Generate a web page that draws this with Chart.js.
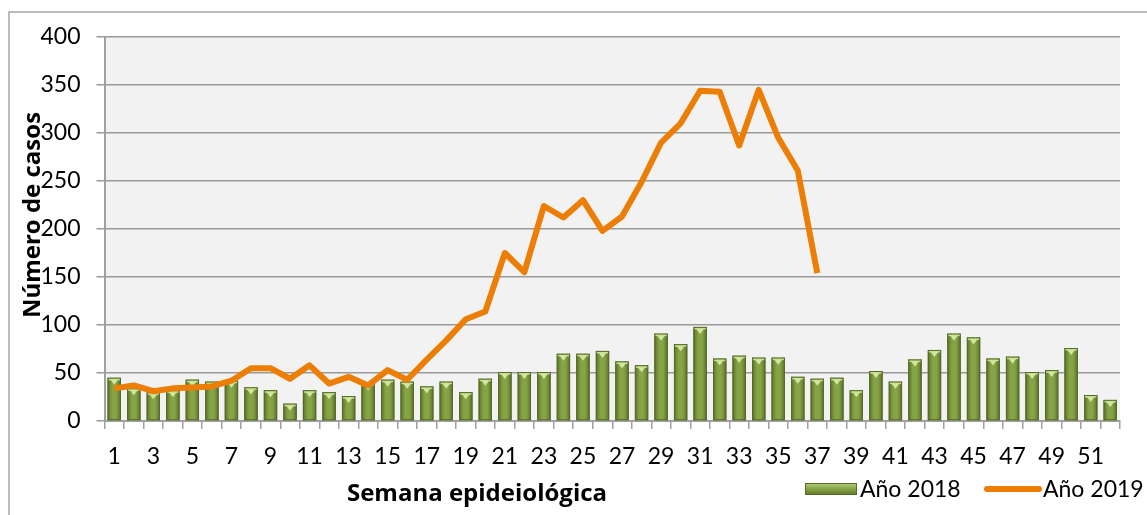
<!DOCTYPE html>
<html>
<head>
<meta charset="utf-8">
<script src="https://cdn.jsdelivr.net/npm/chart.js@4.4.1/dist/chart.umd.min.js"></script>
<style>
  body { margin: 0; background: #ffffff; }
  canvas { display: block; }
</style>
</head>
<body>
<canvas id="casosChart" width="1147" height="515"></canvas>
<script>
// Semanas epidemiológicas
const semanas = [];
for (let i = 1; i <= 52; i++) semanas.push(String(i));

// Casos por semana, 2018 (barras)
const casos2018 = [45, 34, 30, 32, 43, 41, 42, 35, 32, 18,
                   32, 30, 26, 39, 43, 41, 36, 41, 30, 44,
                   51, 51, 51, 70, 70, 73, 62, 58, 91, 80,
                   98, 65, 68, 66, 66, 46, 44, 45, 32, 52,
                   41, 64, 74, 91, 87, 65, 67, 51, 53, 76,
                   27, 22];

// Casos por semana, 2019 (linea, hasta la semana 37)
const casos2019 = [34, 37, 31, 34, 35, 36, 42, 55, 55, 44,
                   58, 39, 46, 37, 53, 43, 64, 84, 106, 114,
                   175, 155, 224, 212, 230, 198, 213, 249, 290, 310,
                   344, 343, 287, 345, 295, 261, 154];

// Etiquetas del eje Y
const yTicks = [0, 50, 100, 150, 200, 250, 300, 350, 400];

const FONT = 'Lato, "Open Sans", sans-serif';
const TITLE_FONT = '"Open Sans", Lato, sans-serif';
const green = '#77933c';
const orange = '#ec7e05';

// Fondo, marco, sombreado de barras, titulos y leyenda
const decorPlugin = {
    id: 'decor',
    beforeDraw(chart) {
        const { ctx, chartArea: a } = chart;
        ctx.save();
        ctx.fillStyle = '#f2f2f2';
        ctx.fillRect(a.left, a.top, a.right - a.left, a.bottom - a.top);
        // marco exterior
        ctx.strokeStyle = '#a6a6a6';
        ctx.lineWidth = 1.5;
        ctx.beginPath();
        ctx.moveTo(9, 515);
        ctx.lineTo(9, 12);
        ctx.lineTo(1147, 12);
        ctx.stroke();
        ctx.restore();
    },
    afterDatasetDraw(chart, args) {
        if (args.index !== 0) return;
        const { ctx } = chart;
        ctx.save();
        args.meta.data.forEach(bar => {
            const w = bar.width, x0 = bar.x - w / 2, top = bar.y, base = bar.base;
            const g = ctx.createLinearGradient(x0, 0, x0 + w, 0);
            g.addColorStop(0, '#5a7227');
            g.addColorStop(0.35, '#86a446');
            g.addColorStop(0.65, '#86a446');
            g.addColorStop(1, '#5a7227');
            ctx.fillStyle = g;
            ctx.fillRect(x0, top, w, base - top);
            ctx.strokeStyle = '#55692c';
            ctx.lineWidth = 1;
            ctx.strokeRect(x0 + 0.5, top + 0.5, w - 1, base - top - 1);
            // bisel superior
            ctx.fillStyle = '#c9df92';
            ctx.fillRect(x0 + 1, top + 1, w - 2, 1.5);
            ctx.beginPath();
            ctx.moveTo(x0 + w * 0.22, top + 2);
            ctx.lineTo(x0 + w * 0.78, top + 2);
            ctx.lineTo(bar.x, top + 7);
            ctx.closePath();
            ctx.fillStyle = '#d2e6a0';
            ctx.fill();
        });
        ctx.restore();
    },
    afterDraw(chart) {
        const { ctx } = chart;
        ctx.save();
        ctx.fillStyle = '#000000';
        // titulo eje X
        ctx.font = 'bold 24px ' + TITLE_FONT;
        ctx.textAlign = 'center';
        ctx.textBaseline = 'middle';
        ctx.fillText('Semana epideiológica', 477, 494);
        // titulo eje Y
        ctx.save();
        ctx.translate(33, 215);
        ctx.rotate(-Math.PI / 2);
        ctx.fillText('Número de casos', 0, 0);
        ctx.restore();
        // leyenda
        ctx.font = '23px ' + FONT;
        ctx.textAlign = 'left';
        const ly = 489;
        const g = ctx.createLinearGradient(0, ly - 6, 0, ly + 6);
        g.addColorStop(0, '#b5cf7a');
        g.addColorStop(0.5, '#86a446');
        g.addColorStop(1, '#5d7529');
        ctx.fillStyle = g;
        ctx.fillRect(805, ly - 6, 52, 12);
        ctx.strokeStyle = '#55692c';
        ctx.lineWidth = 1;
        ctx.strokeRect(805.5, ly - 5.5, 51, 11);
        ctx.fillStyle = '#000000';
        ctx.fillText(chart.data.datasets[0].label, 860, ly + 1);
        ctx.strokeStyle = orange;
        ctx.lineWidth = 6;
        ctx.lineCap = 'round';
        ctx.beginPath();
        ctx.moveTo(987, ly);
        ctx.lineTo(1039, ly);
        ctx.stroke();
        ctx.fillText(chart.data.datasets[1].label, 1043, ly + 1);
        ctx.restore();
    }
};

const ctx = document.getElementById('casosChart').getContext('2d');
new Chart(ctx, {
    type: 'bar',
    data: {
        labels: semanas,
        datasets: [{
            type: 'bar',
            label: 'Año 2018',
            data: casos2018,
            backgroundColor: green,
            barPercentage: 0.68,
            categoryPercentage: 1.0,
            order: 2
        }, {
            type: 'line',
            label: 'Año 2019',
            data: casos2019,
            borderColor: orange,
            borderWidth: 6,
            pointRadius: 0,
            tension: 0,
            borderJoinStyle: 'round',
            fill: false,
            order: 1
        }]
    },
    options: {
        responsive: false,
        animation: false,
        layout: { padding: { top: 37, right: 27, left: 0, bottom: 0 } },
        plugins: {
            legend: { display: false },
            tooltip: { enabled: false }
        },
        scales: {
            x: {
                grid: {
                    offset: true,
                    drawOnChartArea: false,
                    drawTicks: true,
                    tickLength: 8,
                    color: '#a0a0a0',
                    lineWidth: 1.5
                },
                border: { color: '#a0a0a0', width: 2 },
                ticks: {
                    autoSkip: false,
                    maxRotation: 0,
                    padding: 14,
                    color: '#000000',
                    font: { family: FONT, size: 23 },
                    callback: function(val, i) { return i % 2 === 0 ? semanas[i] : ''; }
                },
                afterFit: function(scale) { scale.height = 94; }
            },
            y: {
                min: yTicks[0],
                max: yTicks[yTicks.length - 1],
                afterBuildTicks: function(scale) {
                    scale.ticks = yTicks.map(v => ({ value: v }));
                },
                grid: {
                    color: '#999999',
                    lineWidth: 1.5,
                    tickLength: 8
                },
                border: { color: '#a0a0a0', width: 2 },
                ticks: {
                    padding: 16,
                    color: '#000000',
                    font: { family: FONT, size: 23 }
                },
                afterFit: function(scale) { scale.width = 104.5; }
            }
        }
    },
    plugins: [decorPlugin]
});
</script>
</body>
</html>
